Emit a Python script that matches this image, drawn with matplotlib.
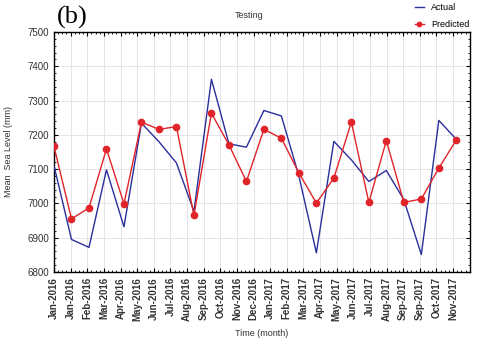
import matplotlib
matplotlib.use('Agg')
import matplotlib.pyplot as plt
from matplotlib.ticker import AutoMinorLocator, MultipleLocator
import numpy as np

months = ['Jan-2016', 'Jan-2016', 'Feb-2016', 'Mar-2016', 'Apr-2016', 'May-2016',
          'Jun-2016', 'Jul-2016', 'Aug-2016', 'Sep-2016', 'Oct-2016', 'Nov-2016',
          'Dec-2016', 'Jan-2017', 'Feb-2017', 'Mar-2017', 'Apr-2017', 'May-2017',
          'Jun-2017', 'Jul-2017', 'Aug-2017', 'Sep-2017', 'Sep-2017', 'Oct-2017',
          'Nov-2017']

actual = [7110, 6895, 6872, 7098, 6932, 7234, 7180, 7118, 6977, 7362, 7174, 7164,
          7271, 7255, 7080, 6856, 7181, 7127, 7064, 7096, 7011, 6851, 7242, 7187]
predicted = [7166, 6955, 6987, 7159, 6999, 7237, 7216, 7224, 6965, 7263, 7171, 7064,
             7216, 7190, 7089, 7001, 7074, 7237, 7003, 7183, 7003, 7013, 7103, 7185]

plt.rcParams['font.family'] = ['Liberation Sans', 'DejaVu Sans']

fig = plt.figure(figsize=(4.8, 3.47), dpi=100)
ax = fig.add_axes([0.1125, 0.216, 0.866, 0.692])

# 24 points spread over 25 tick slots, like the original export
xs = np.arange(len(actual)) * 1.052
ax.plot(xs, actual, color='#2a2f9a', lw=1.0, label='Actual', zorder=3)
ax.plot(xs, predicted, color='#e0242a', lw=1.0, marker='o', ms=4.5,
        label='Predicted', zorder=4)

ax.set_xlim(0, 25)
ax.set_ylim(6800, 7500)
ax.yaxis.set_major_locator(MultipleLocator(100))
ax.yaxis.set_minor_locator(AutoMinorLocator(5))
ax.set_xticks(range(len(months)))
ax.set_xticklabels(months, rotation=90, fontsize=7, fontweight='bold', color='#333333')
ax.xaxis.set_minor_locator(AutoMinorLocator(4))
ax.tick_params(axis='y', labelsize=7, colors='#333333', labelcolor='#333333')
ax.tick_params(which='both', direction='in', top=True, right=True, color='black')
ax.tick_params(which='major', length=3, width=0.8)
ax.tick_params(which='minor', length=1.5, width=0.6)
ax.grid(True, color='#e4e4ea', lw=0.7)
ax.set_axisbelow(True)
for s in ax.spines.values():
    s.set_linewidth(1.0)

ax.set_ylabel('Mean  Sea Level (mm)', fontsize=6.5, color='#333333', labelpad=10)
ax.set_xlabel('Time (month)', fontsize=6.5, color='#333333', labelpad=6)

fig.text(0.52, 0.955, 'Testing', fontsize=6.5, ha='center', va='center', color='#333333')
fig.text(0.118, 0.95, '(b)', fontsize=19, ha='left', va='center',
         family=['Liberation Serif', 'DejaVu Serif'])

fig.legend(loc='upper right', bbox_to_anchor=(0.995, 1.015), frameon=False,
           fontsize=6.5, handlelength=1.0, handletextpad=0.8, labelspacing=0.9,
           markerscale=0.7)

plt.savefig('out.png', dpi=100)
